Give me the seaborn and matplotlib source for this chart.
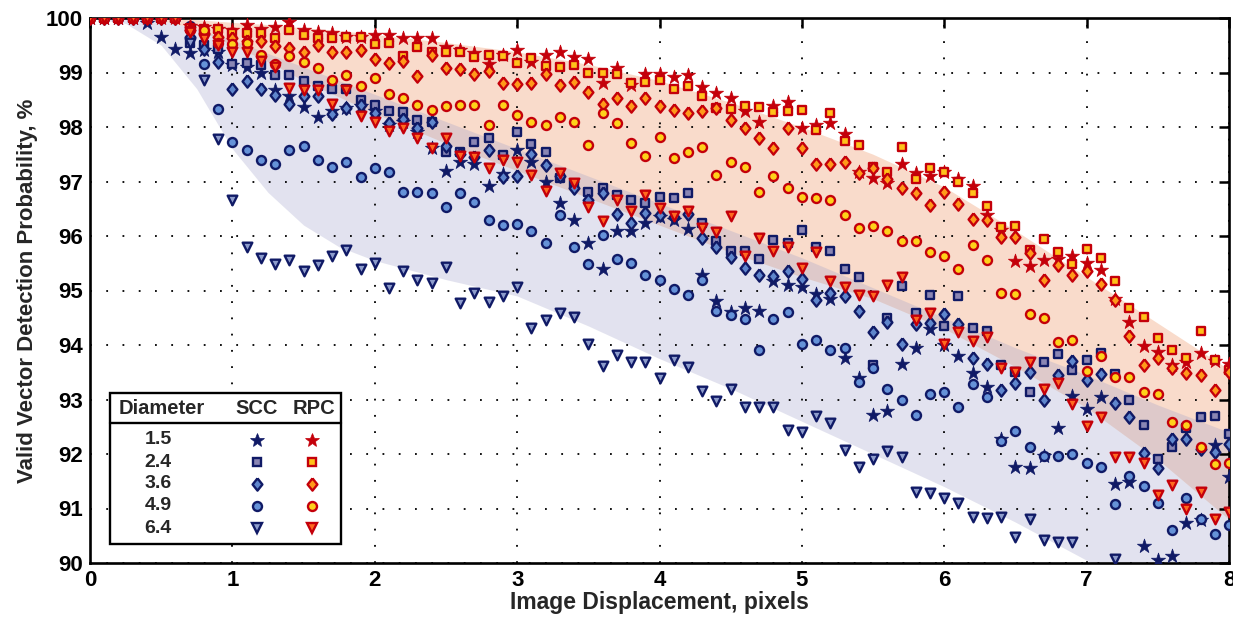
import numpy as np
import matplotlib
matplotlib.use("Agg")
import matplotlib.pyplot as plt
import seaborn as sns
from matplotlib.patches import Rectangle

# ---------------- data ----------------
displacement = np.round(np.linspace(0, 8, 81), 1)
diameters = ["1.5", "2.4", "3.6", "4.9", "6.4"]
nan = np.nan

scc_15 = [100, 100, 100, 100, 99.9, 99.65, 99.43, 99.36, 99.42, 99.38,
          99.14, 99.11, 99.0, 98.68, 98.56, 98.37, 98.19, 98.3, 98.34, 98.38,
          98.3, 98.04, 98.1, 97.91, 97.61, 97.19, 97.36, 97.33, 96.92, 97.13,
          97.58, 97.35, 97.0, 96.6, 96.29, 95.88, 95.39, 96.1, 96.1, 96.23,
          96.35, 96.29, 96.12, 95.28, 94.81, 94.61, 94.67, 94.63, 95.18, 95.1,
          95.07, 94.94, 94.84, 93.76, 93.39, 92.72, 92.79, 93.66, 93.95, 94.3,
          94.0, 93.8, 93.48, 93.23, 92.27, 91.77, 91.74, 91.96, 92.47, 93.06,
          92.82, 93.05, 91.45, 91.49, 90.31, 90.06, 90.12, 90.74, 90.79, 92.17,
          91.58]
scc_24 = [100, 100, 100, 100, 100, 100, 100, 99.55, 99.5, 99.44,
          99.15, 99.17, 99.14, 98.95, 98.95, 98.85, 98.76, 98.7, 98.7, 98.5,
          98.4, 98.3, 98.27, 98.13, 98.09, 97.55, 97.54, 97.73, 97.8, 97.49,
          97.9, 97.69, 97.55, 97.06, 96.95, 96.81, 96.88, 96.75, 96.66, 96.6,
          96.72, 96.69, 96.79, 96.24, 95.9, 95.73, 95.73, 95.58, 95.93, 95.87,
          96.11, 95.79, 95.73, 95.39, 95.24, 93.63, 94.49, 95.08, 94.58, 94.92,
          94.34, 94.9, 94.31, 94.25, 93.63, 93.51, 93.13, 93.68, 93.83, 93.54,
          93.72, 93.86, 93.47, 92.99, 92.53, 91.9, 92.13, 92.47, 92.67, 92.7,
          92.37]
scc_36 = [100, 100, 100, 100, 100, 100, 100, 99.65, 99.44, 99.2,
          98.7, 98.84, 98.7, 98.59, 98.43, 98.56, 98.56, 98.23, 98.35, 98.4,
          98.25, 98.07, 98.15, 97.98, 98.1, 97.65, 97.5, 97.45, 97.58, 97.09,
          97.1, 97.5, 97.3, 97.1, 96.88, 96.66, 96.79, 96.4, 96.23, 96.43,
          96.39, 96.35, 96.4, 95.96, 95.8, 95.62, 95.41, 95.28, 95.26, 95.35,
          95.22, 94.83, 94.96, 94.9, 94.63, 94.23, 94.42, 94.01, 94.38, 94.4,
          94.57, 94.39, 93.76, 93.66, 93.17, 93.3, 93.51, 93.0, 93.45, 93.71,
          93.36, 93.47, 92.94, 92.68, 92.01, 91.74, 92.27, 92.27, 92.1, 92.04,
          92.18]
scc_49 = [100, 100, 100, 100, 100, 100, 100, 99.85, 99.15, 98.33,
          97.73, 97.58, 97.39, 97.32, 97.58, 97.65, 97.39, 97.27, 97.35, 97.09,
          97.24, 97.17, 96.8, 96.8, 96.78, 96.54, 96.78, 96.63, 96.29, 96.2,
          96.22, 96.1, 95.87, 96.39, 95.79, 95.49, 96.02, 95.58, 95.51, 95.28,
          95.2, 95.02, 94.92, 95.19, 94.63, 94.55, 94.47, 93.9, 94.47, 94.6,
          94.01, 94.1, 93.91, 93.94, 93.33, 93.57, 93.19, 92.99, 92.72, 93.1,
          93.14, 92.87, 93.28, 93.04, 92.24, 92.43, 92.12, 91.96, 91.96, 92.0,
          91.84, 91.76, 91.08, 91.6, 91.41, 91.1, 90.61, 91.19, 90.8, 90.54,
          90.7]
scc_64 = [100, 100, 100, 100, 100, 100, 100, 99.54, 98.86, 97.78,
          96.66, 95.8, 95.6, 95.48, 95.56, 95.36, 95.46, 95.64, 95.74, 95.39,
          95.5, 95.05, 95.36, 95.19, 95.13, 95.44, 94.77, 94.95, 94.78, 94.89,
          95.07, 94.32, 94.45, 94.59, 94.52, 94.02, 93.61, 93.82, 93.68, 93.68,
          93.39, 93.72, 93.59, 93.16, 92.98, 93.2, 92.87, 92.87, 92.87, 92.44,
          92.41, 92.7, 92.57, 92.07, 91.76, 91.9, 92.06, 91.94, 91.31, 91.28,
          91.2, 91.1, 90.85, 90.82, 90.84, 90.47, 90.8, 90.42, 90.39, 90.39,
          nan, nan, 90.07, nan, nan, nan, nan, nan, nan, nan,
          nan]

rpc_15 = [100, 100, 100, 100, 100, 100, 100, 99.85, 99.84, 99.8,
          99.78, 99.87, 99.8, 99.84, 99.92, 99.78, 99.74, 99.72, 99.66, 99.66,
          99.68, 99.69, 99.64, 99.64, 99.64, 99.46, 99.41, 99.35, 99.15, 99.32,
          99.41, 99.2, 99.32, 99.37, 99.28, 99.24, 98.8, 99.08, 98.77, 98.97,
          98.97, 98.91, 98.95, 98.73, 98.62, 98.54, 98.3, 98.1, 98.39, 98.45,
          97.98, 98.04, 98.08, 97.87, 97.18, 97.06, 96.98, 97.32, 97.16, 97.1,
          97.18, 97.05, 96.91, 96.39, 96.11, 95.55, 95.45, 95.56, 95.57, 95.63,
          95.5, 95.38, 94.84, 94.43, 93.98, 93.88, 93.63, 93.69, 93.85, 93.71,
          93.65]
rpc_24 = [100, 100, 100, 100, 100, 100, 100, 99.81, 99.8, 99.8,
          99.72, 99.72, 99.72, 99.63, 99.78, 99.69, 99.64, 99.64, 99.65, 99.65,
          99.52, 99.55, 99.31, 99.46, 99.37, 99.37, 99.38, 99.29, 99.33, 99.31,
          99.18, 99.26, 99.12, 99.11, 99.14, 99.0, 99.0, 98.97, 98.81, 98.82,
          98.86, 98.69, 98.75, 98.56, 98.34, 98.33, 98.39, 98.36, 98.28, 98.3,
          98.32, 97.94, 98.26, 97.75, 97.67, 97.26, 97.18, 97.63, 97.04, 97.25,
          97.17, 97.0, 96.79, 96.55, 96.16, 96.18, 95.75, 95.94, 95.71, 95.49,
          95.76, 95.59, 95.18, 94.67, 94.51, 94.12, 93.9, 93.76, 94.26, 93.72,
          93.55]
rpc_36 = [100, 100, 100, 100, 100, 100, 100, 99.78, 99.72, 99.66,
          99.63, 99.58, 99.57, 99.49, 99.45, 99.37, 99.5, 99.37, 99.37, 99.41,
          99.25, 99.17, 99.21, 98.94, 99.33, 99.08, 99.07, 98.97, 99.03, 98.81,
          98.79, 98.81, 98.97, 98.77, 98.83, 98.65, 98.42, 98.53, 98.39, 98.53,
          98.39, 98.32, 98.26, 98.3, 98.34, 98.12, 97.98, 97.79, 97.61, 97.98,
          97.61, 97.33, 97.33, 97.36, 97.16, 97.24, 97.04, 96.88, 96.78, 96.57,
          96.81, 96.59, 96.32, 96.3, 95.99, 95.99, 95.69, 95.19, 95.47, 95.28,
          95.35, 95.12, 94.83, 94.17, 93.63, 93.77, 93.57, 93.49, 93.45, 93.17,
          93.51]
rpc_49 = [100, 100, 100, 100, 100, 100, 100, 99.78, 99.78, 99.54,
          99.52, 99.54, 99.33, 99.15, 99.31, 99.2, 99.09, 98.86, 98.95, 98.75,
          98.9, 98.6, 98.53, 98.4, 98.31, 98.39, 98.41, 98.41, 98.04, 98.41,
          98.22, 98.1, 98.04, 98.19, 98.1, 97.67, 98.26, 98.07, 97.71, 97.47,
          97.81, 97.43, 97.55, 97.63, 97.12, 97.36, 97.26, 96.81, 97.1, 96.88,
          96.72, 96.69, 96.66, 96.39, 96.14, 96.18, 96.1, 95.91, 95.91, 95.71,
          95.63, 95.39, 95.83, 95.56, 94.95, 94.94, 94.57, 94.49, 94.06, 94.1,
          93.53, 93.8, 93.42, 93.41, 93.14, 93.11, 92.59, 92.53, 92.12, 91.82,
          91.83]
rpc_64 = [100, 100, 100, 100, 100, 100, 100, 99.75, 99.62, 99.5,
          99.38, 99.38, 99.21, 99.11, 98.72, 98.68, 98.68, 98.42, 98.68, 98.21,
          98.1, 97.93, 97.98, 97.79, 97.62, 97.8, 97.47, 97.45, 97.25, 97.4,
          97.36, 97.12, 96.83, 97.16, 96.98, 96.54, 96.28, 96.66, 96.46, 96.75,
          96.51, 96.37, 96.46, 96.14, 96.08, 96.37, 95.63, 95.96, 95.73, 95.8,
          95.41, 95.71, 95.18, 95.07, 94.92, 94.9, 95.11, 95.24, 94.46, 94.59,
          94.02, 94.23, 94.08, 94.14, 93.57, 93.51, 93.68, 93.2, 93.31, 92.92,
          92.51, 92.68, 91.95, 91.94, 91.84, 91.25, 91.43, 91.0, 91.31, 90.8,
          90.94]

# shaded envelopes
band_x = [0, 0.25, 0.5, 0.75, 1.0, 1.25, 1.5, 1.75, 2.0, 2.5, 3.0, 3.5, 4.0,
          4.5, 5.0, 5.5, 6.0, 6.5, 7.0, 7.5, 8.0]
scc_band_low = [100, 99.9, 99.5, 98.7, 97.6, 96.8, 96.2, 95.8, 95.55, 95.2,
                94.9, 94.35, 93.75, 93.2, 92.6, 92.0, 91.4, 90.75, 90.05,
                89.35, 88.65]
scc_band_high = [100, 100, 99.95, 99.8, 99.6, 99.35, 99.1, 98.85, 98.6, 98.1,
                 97.6, 97.1, 96.6, 96.1, 95.6, 95.05, 94.5, 93.95, 93.45,
                 92.9, 92.4]
rpc_band_low = [100, 100, 99.95, 99.8, 99.5, 99.2, 98.85, 98.55, 98.25, 97.7,
                97.2, 96.7, 96.2, 95.7, 95.25, 94.85, 94.3, 93.6, 92.85,
                91.9, 90.8]
rpc_band_high = [100, 100, 100, 99.97, 99.92, 99.88, 99.82, 99.77, 99.7,
                 99.55, 99.38, 99.15, 98.85, 98.45, 98.0, 97.5, 96.9, 96.1,
                 95.25, 94.4, 93.55]

# ---------------- styling ----------------
sns.set_theme(style="white")
plt.rcParams['font.family'] = ['Liberation Sans', 'DejaVu Sans']
plt.rcParams['font.weight'] = 'bold'
plt.rcParams['axes.labelweight'] = 'bold'

NAVY = '#101a66'
RED = '#c4000a'
DIAMOND = [(0, 1), (0.8, 0), (0, -1), (-0.8, 0), (0, 1)]
markers = ['*', 's', DIAMOND, 'o', 'v']
sizes = [115, 32, 78, 42, 48]
edge_w = [0.5, 1.7, 1.7, 1.7, 1.7]
scc_faces = [NAVY, '#8a86b4', '#5f86cc', '#6592d8', '#8d9ccc']
rpc_faces = [RED, '#ffc21a', '#ff9a1a', '#ffd21a', '#ff6a1f']
scc_series = [scc_15, scc_24, scc_36, scc_49, scc_64]
rpc_series = [rpc_15, rpc_24, rpc_36, rpc_49, rpc_64]

fig = plt.figure(figsize=(12.33, 6.26), dpi=100)
ax = fig.add_axes([90 / 1233, 1 - 563 / 626, (1229 - 90) / 1233, (563 - 18) / 626])

ax.fill_between(band_x, rpc_band_low, rpc_band_high, color='#f0a77d',
                alpha=0.4, linewidth=0, zorder=1)
ax.fill_between(band_x, scc_band_low, scc_band_high, color='#a2a2ca',
                alpha=0.3, linewidth=0, zorder=1.1)

z = 3
for series, mk, s, fc, lw in zip(scc_series, markers, sizes, scc_faces, edge_w):
    sns.scatterplot(x=displacement, y=series, marker=mk, s=s, color=fc,
                    edgecolor=NAVY, linewidth=lw, ax=ax, zorder=z, legend=False)
    z += 0.1
for series, mk, s, fc, lw in zip(rpc_series, markers, sizes, rpc_faces, edge_w):
    sns.scatterplot(x=displacement, y=series, marker=mk, s=s, color=fc,
                    edgecolor=RED, linewidth=lw, ax=ax, zorder=z, legend=False)
    z += 0.1

ax.set_xlim(0, 8)
ax.set_ylim(90, 100)
ax.set_xticks(range(0, 9))
ax.set_yticks(range(90, 101))
ax.set_axisbelow('line')
ax.grid(True, color='black', linestyle=(0, (1, 8)), linewidth=1.3)
ax.tick_params(direction='in', length=7, width=1.8, top=True, right=True,
               labelsize=16, pad=5, colors='black')
for lab in ax.get_xticklabels() + ax.get_yticklabels():
    lab.set_fontweight('bold')
for sp in ax.spines.values():
    sp.set_linewidth(1.9)
    sp.set_color('black')

ax.set_xlabel('Image Displacement, pixels', fontsize=16.5, fontweight='bold',
              labelpad=0)
ax.set_ylabel('Valid Vector Detection Probability, %', fontsize=16,
              fontweight='bold', labelpad=6)

# ---------------- table-style legend ----------------
bx0, bx1, by0, by1, hy = 0.0176, 0.2204, 0.035, 0.312, 0.257
ax.add_patch(Rectangle((bx0, by0), bx1 - bx0, by1 - by0, transform=ax.transAxes,
                       facecolor='white', edgecolor='black', linewidth=1.7,
                       zorder=20, clip_on=False))
ax.plot([bx0, bx1], [hy, hy], transform=ax.transAxes, color='black',
        linewidth=1.7, zorder=21, clip_on=False)
hdr_y = 0.284
ax.text(0.0255, hdr_y, 'Diameter', transform=ax.transAxes, ha='left',
        va='center', fontsize=14.5, fontweight='bold', zorder=22)
ax.text(0.1466, hdr_y, 'SCC', transform=ax.transAxes, ha='center',
        va='center', fontsize=14.5, fontweight='bold', zorder=22)
ax.text(0.197, hdr_y, 'RPC', transform=ax.transAxes, ha='center',
        va='center', fontsize=14.5, fontweight='bold', zorder=22)
row_y = [0.226, 0.185, 0.145, 0.105, 0.064]
for i, (d, ry) in enumerate(zip(diameters, row_y)):
    ax.text(0.0597, ry, d, transform=ax.transAxes, ha='center', va='center',
            fontsize=14, fontweight='bold', zorder=22)
    ms = np.sqrt(sizes[i])
    ax.plot([0.1466], [ry], transform=ax.transAxes, marker=markers[i],
            markersize=ms, markerfacecolor=scc_faces[i], markeredgecolor=NAVY,
            markeredgewidth=edge_w[i], linestyle='none', zorder=22,
            clip_on=False)
    ax.plot([0.195], [ry], transform=ax.transAxes, marker=markers[i],
            markersize=ms, markerfacecolor=rpc_faces[i], markeredgecolor=RED,
            markeredgewidth=edge_w[i], linestyle='none', zorder=22,
            clip_on=False)

fig.savefig('out.png', dpi=100)
